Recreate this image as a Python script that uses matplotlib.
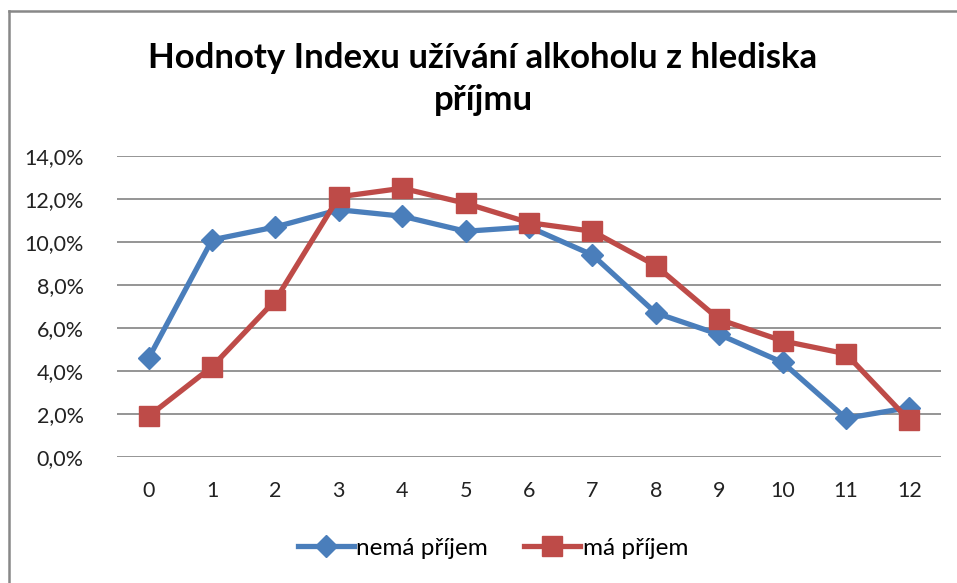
import matplotlib
matplotlib.use("Agg")
import matplotlib.pyplot as plt
from matplotlib.ticker import FuncFormatter
from matplotlib.lines import Line2D

categories = list(range(13))
nema_prijem = [4.6, 10.1, 10.7, 11.5, 11.2, 10.5, 10.7, 9.4, 6.7, 5.7, 4.4, 1.8, 2.3]
ma_prijem = [1.9, 4.2, 7.3, 12.1, 12.5, 11.8, 10.9, 10.5, 8.9, 6.4, 5.4, 4.8, 1.7]
yticks = [0, 2, 4, 6, 8, 10, 12, 14]
title = "Hodnoty Indexu užívání alkoholu z hlediska\npříjmu"
labels = ["nemá příjem", "má příjem"]

plt.rcParams['font.family'] = ['Lato', 'DejaVu Sans']

fig = plt.figure(figsize=(9.57, 5.83), dpi=100)
fig.patch.set_facecolor('white')

# chart border (top and left visible)
fig.add_artist(Line2D([9/957, 9/957], [0, 1-11/583], transform=fig.transFigure, color='#888888', lw=1.8))
fig.add_artist(Line2D([9/957, 1], [1-11/583, 1-11/583], transform=fig.transFigure, color='#888888', lw=1.8))

ax = fig.add_axes([117/957, 1-457/583, (941-117)/957, (457-156)/583])
blue = '#4A7EBB'
red = '#BE4B48'
ax.plot(categories, nema_prijem, color=blue, lw=3.8, marker='D', markersize=11, zorder=3, label=labels[0])
ax.plot(categories, ma_prijem, color=red, lw=3.8, marker='s', markersize=15, zorder=4, label=labels[1])

ax.set_xlim(-0.5, 12.5)
ax.set_ylim(0, 14)
ax.set_yticks(yticks)
ax.set_xticks(categories)
ax.yaxis.set_major_formatter(FuncFormatter(lambda v, p: f"{v:.1f}%".replace('.', ',')))
ax.grid(axis='y', color='#8c8c8c', lw=1.3)
ax.set_axisbelow(True)
for s in ax.spines.values():
    s.set_visible(False)
ax.tick_params(axis='both', length=0, labelsize=15.5, colors='#222222')
ax.tick_params(axis='y', pad=24)
ax.tick_params(axis='x', pad=17)

fig.text(483/957, 1-79/583, title, ha='center', va='center', fontsize=25, fontweight='bold',
         linespacing=1.4, color='black')

leg = fig.legend(loc='center', bbox_to_anchor=(493/957, 1-548/583), ncol=2, frameon=False,
                 fontsize=17.5, handlelength=2.3, handletextpad=0.1, columnspacing=1.5)

fig.savefig('out.png', dpi=100, facecolor='white')
